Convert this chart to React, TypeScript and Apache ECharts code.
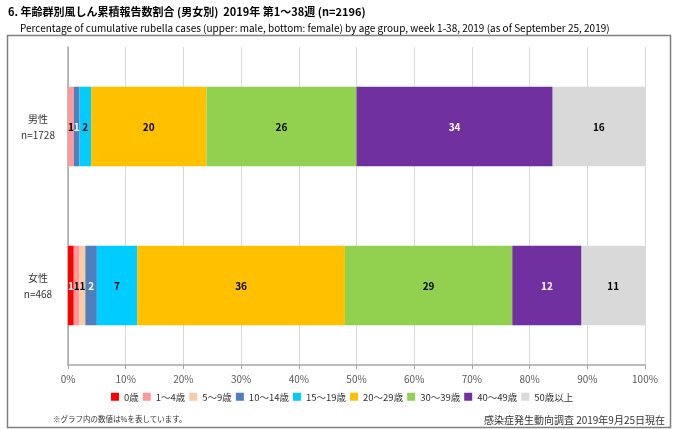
import React, { useEffect, useRef } from "react";
import * as echarts from "echarts";

const categories = ["男性\nn=1728", "女性\nn=468"];
const ageGroups = ["0歳", "1～4歳", "5～9歳", "10～14歳", "15～19歳", "20～29歳", "30～39歳", "40～49歳", "50歳以上"];
const maleValues = [0, 1, 0, 1, 2, 20, 26, 34, 16];
const femaleValues = [1, 1, 1, 2, 7, 36, 29, 12, 11];
const colors = ["#FF0000", "#FF9999", "#FBCBA6", "#4F7FBD", "#00CCFF", "#FFC000", "#92D050", "#7030A0", "#D9D9D9"];
const labelColors = ["#ffffff", "#000000", "#000000", "#ffffff", "#000000", "#000000", "#000000", "#ffffff", "#000000"];
const xTicks = [0, 10, 20, 30, 40, 50, 60, 70, 80, 90, 100];

const FONT = '"Noto Sans CJK JP", "Noto Sans", sans-serif';

export default function App() {
  const ref = useRef<HTMLDivElement>(null);
  useEffect(() => {
    document.body.style.margin = "0";
    const chart = echarts.init(ref.current!, null, { renderer: "svg" });
    const series = ageGroups.map((g, i) => ({
      name: g,
      type: "bar" as const,
      stack: "total",
      barWidth: "50%",
      data: [maleValues[i], femaleValues[i]],
      itemStyle: { color: colors[i] },
      label: {
        show: true,
        position: "inside" as const,
        fontSize: 10,
        fontWeight: "bold" as const,
        fontFamily: FONT,
        color: labelColors[i],
        formatter: (p: any) => (p.value ? String(p.value) : ""),
      },
    }));
    chart.setOption({
      animation: false,
      textStyle: { fontFamily: FONT },
      title: [
        {
          text: "6. 年齢群別風しん累積報告数割合 (男女別)  2019年 第1～38週 (n=2196)",
          left: 8,
          top: 3,
          padding: 0,
          textStyle: { fontSize: 11, lineHeight: 16, fontWeight: "bold", color: "#000", fontFamily: FONT },
        },
        {
          text: "Percentage of cumulative rubella cases (upper: male, bottom: female) by age group, week 1-38, 2019 (as of September 25, 2019)",
          left: 20,
          top: 20,
          padding: 0,
          textStyle: { fontSize: 10, lineHeight: 14, fontWeight: "normal", color: "#000", fontFamily: FONT },
        },
      ],
      graphic: [
        {
          type: "rect",
          shape: { x: 7.5, y: 35.5, width: 663, height: 392 },
          style: { fill: "none", stroke: "#7f7f7f", lineWidth: 1.5 },
          silent: true,
        },
        {
          type: "text",
          left: 53,
          top: 415,
          style: { text: "※グラフ内の数値は%を表しています。", fontSize: 7.5, fill: "#333", fontFamily: FONT },
        },
        {
          type: "text",
          right: 11,
          top: 414,
          style: { text: "感染症発生動向調査 2019年9月25日現在", fontSize: 10, fill: "#333", fontFamily: FONT },
        },
      ],
      legend: {
        data: ageGroups,
        left: 106,
        top: 387,
        itemWidth: 8,
        itemHeight: 8,
        itemGap: 4,
        icon: "rect",
        textStyle: { fontSize: 9.5, color: "#333", fontFamily: FONT },
      },
      grid: { left: 68, right: 31, top: 47, bottom: 64, containLabel: false },
      xAxis: {
        type: "value",
        min: 0,
        max: 100,
        interval: 10,
        axisLine: { show: true, lineStyle: { color: "#a6a6a6", width: 1.5 } },
        axisTick: { show: true, length: 4, lineStyle: { color: "#a6a6a6" } },
        splitLine: { show: true, lineStyle: { color: "#d9d9d9" } },
        axisLabel: {
          formatter: (v: number) => (xTicks.includes(v) ? v + "%" : ""),
          fontSize: 10,
          color: "#595959",
          margin: 8,
          fontFamily: FONT,
        },
      },
      yAxis: {
        type: "category",
        data: categories,
        inverse: true,
        axisLine: { show: true, lineStyle: { color: "#a6a6a6", width: 1.5 } },
        axisTick: { show: false },
        axisLabel: {
          fontSize: 10,
          lineHeight: 16,
          color: "#333",
          align: "center",
          margin: 30,
          fontFamily: FONT,
        },
      },
      series,
    });
    return () => chart.dispose();
  }, []);
  return <div ref={ref} style={{ position: "fixed", left: 0, top: 0, width: 676, height: 429 }} />;
}
